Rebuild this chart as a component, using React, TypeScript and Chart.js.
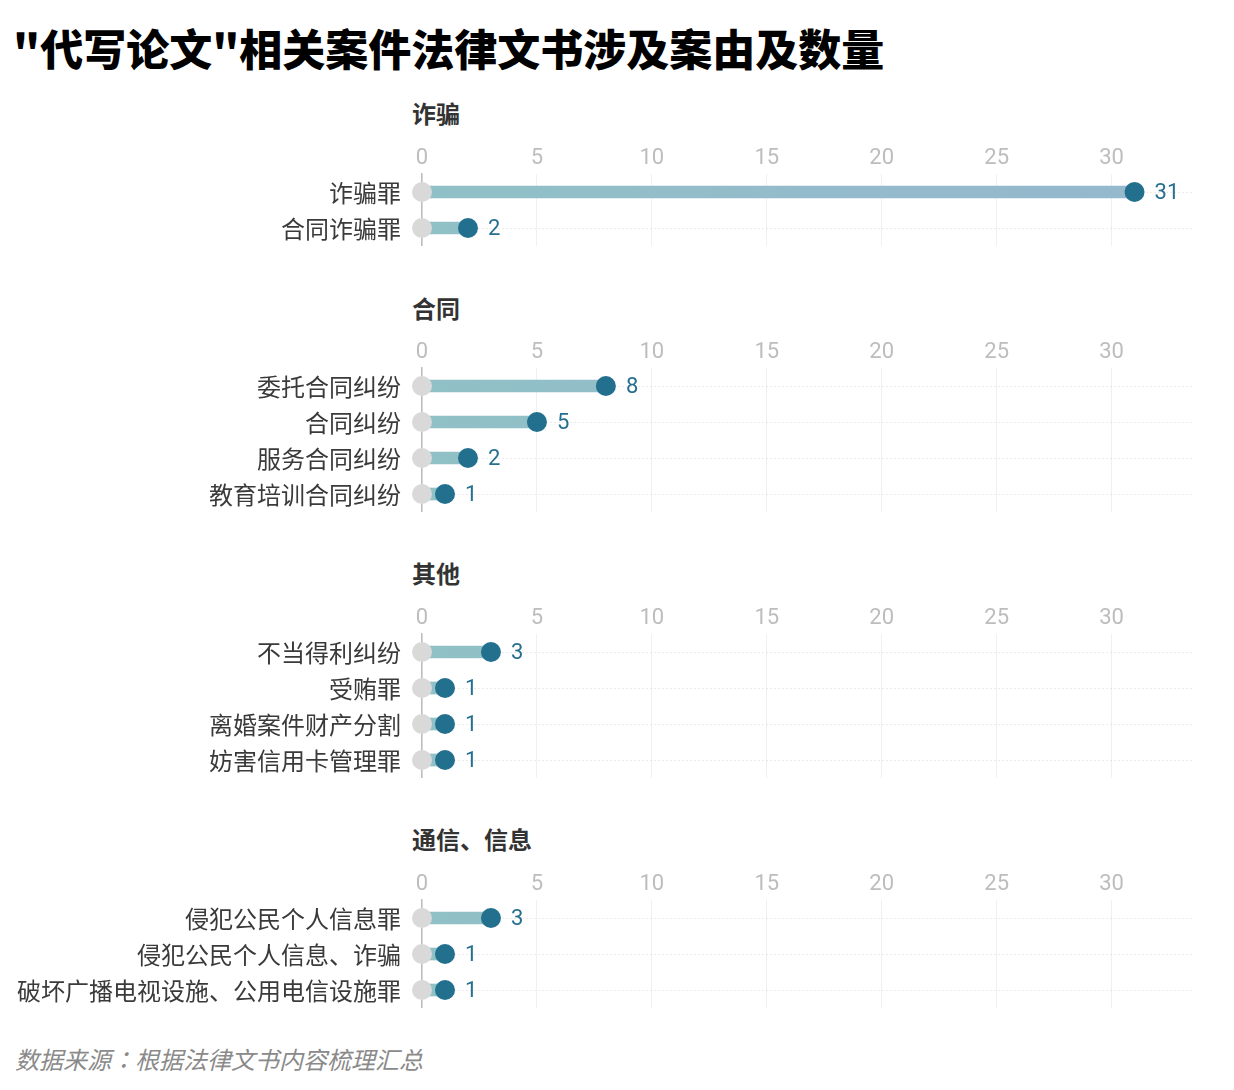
import React, { useEffect, useRef } from "react";
import { Chart, registerables } from "chart.js";

Chart.register(...registerables);

// ---- data ----
const fraudLabels = ["诈骗罪", "合同诈骗罪"];
const fraudValues = [31, 2];

const contractLabels = ["委托合同纠纷", "合同纠纷", "服务合同纠纷", "教育培训合同纠纷"];
const contractValues = [8, 5, 2, 1];

const otherLabels = ["不当得利纠纷", "受贿罪", "离婚案件财产分割", "妨害信用卡管理罪"];
const otherValues = [3, 1, 1, 1];

const infoLabels = ["侵犯公民个人信息罪", "侵犯公民个人信息、诈骗", "破坏广播电视设施、公用电信设施罪"];
const infoValues = [3, 1, 1];

const groupTitles = ["诈骗", "合同", "其他", "通信、信息"];
const xTickStep = 5;
const xMax = 33.5;

const chartTitle = '"代写论文"相关案件法律文书涉及案由及数量';
const sourceNoteA = "数据来源";
const sourceNoteColon = "：";
const sourceNoteB = "根据法律文书内容梳理汇总";

// ---- layout ----
const AXIS_H = 50;
const ROW_H = 36;
const AXIS_LEFT = 422;
const AXIS_RIGHT = 1192;
const W = 1234;

const panels = [
  { title: groupTitles[0], labels: fraudLabels, values: fraudValues, row0: 192, titleY: 113 },
  { title: groupTitles[1], labels: contractLabels, values: contractValues, row0: 386, titleY: 308 },
  { title: groupTitles[2], labels: otherLabels, values: otherValues, row0: 652, titleY: 573 },
  { title: groupTitles[3], labels: infoLabels, values: infoValues, row0: 918, titleY: 839 },
];

const labelPlugin = {
  id: "labels",
  afterDatasetsDraw(chart: any) {
    const ctx = chart.ctx;
    const yScale = chart.scales.y;
    const area = chart.chartArea;
    ctx.save();
    // category labels
    ctx.font = "24px 'Noto Sans CJK SC'";
    ctx.fillStyle = "#3a3a3a";
    ctx.textAlign = "right";
    ctx.textBaseline = "middle";
    (chart.data.labels as string[]).forEach((lab, i) => {
      ctx.fillText(lab, area.left - 21, yScale.getPixelForValue(i) + 1);
    });
    // value labels
    const meta = chart.getDatasetMeta(2);
    const vals = chart.data.datasets[2].data;
    ctx.font = "22px Roboto";
    ctx.fillStyle = "#266f8e";
    ctx.textAlign = "left";
    meta.data.forEach((pt: any, i: number) => {
      ctx.fillText(String(vals[i]), pt.x + 20, pt.y + 1);
    });
    ctx.restore();
  },
};

function Panel({ labels, values, top }: { labels: string[]; values: number[]; top: number }) {
  const ref = useRef<HTMLCanvasElement>(null);
  const height = AXIS_H + labels.length * ROW_H;
  useEffect(() => {
    if (!ref.current) return;
    const barGradient = (c: any) => {
      const chart = c.chart;
      const area = chart.chartArea;
      if (!area) return "#93bccb";
      const g = chart.ctx.createLinearGradient(area.left, 0, area.right, 0);
      g.addColorStop(0, "#90c1c6");
      g.addColorStop(0.5, "#94bbcb");
      g.addColorStop(1, "#95b8cd");
      return g;
    };
    const chart = new Chart(ref.current, {
      type: "bar",
      data: {
        labels,
        datasets: [
          {
            type: "bar",
            data: values.map((v) => [0, v]),
            backgroundColor: barGradient,
            barThickness: 12,
            order: 3,
            indexAxis: "y",
          } as any,
          {
            type: "line",
            data: values.map(() => 0),
            showLine: false,
            pointRadius: 10,
            pointBackgroundColor: "#d9d9d9",
            pointBorderWidth: 0,
            clip: false,
            order: 2,
            indexAxis: "y",
          } as any,
          {
            type: "line",
            data: values,
            showLine: false,
            pointRadius: 10,
            pointBackgroundColor: "#236f8e",
            pointBorderWidth: 0,
            clip: false,
            order: 1,
            indexAxis: "y",
          } as any,
        ],
      },
      options: {
        indexAxis: "y",
        animation: false,
        responsive: false,
        events: [],
        layout: { autoPadding: false, padding: { left: 0, right: W - AXIS_RIGHT, top: 0, bottom: 0 } },
        plugins: { legend: { display: false }, tooltip: { enabled: false }, title: { display: false } },
        scales: {
          x: {
            type: "linear",
            position: "top",
            min: 0,
            max: xMax,
            afterFit: (s: any) => {
              s.height = AXIS_H;
            },
            afterBuildTicks: (s: any) => {
              s.ticks = s.ticks.filter((t: any) => t.value % xTickStep === 0);
            },
            ticks: {
              stepSize: xTickStep,
              color: "#bdbdbd",
              font: { family: "Roboto", size: 22 },
              padding: 2,
              autoSkip: false,
              maxRotation: 0,
            },
            grid: { color: "#f0f0f0", lineWidth: 1, drawTicks: false },
            border: { display: false },
          },
          y: {
            type: "category",
            position: "left",
            offset: true,
            afterFit: (s: any) => {
              s.width = AXIS_LEFT;
            },
            ticks: { display: false },
            grid: { offset: false, color: "#d6d6d6", lineWidth: 1, drawTicks: false },
            border: { display: true, color: "#bdbdbd", width: 1.5, dash: [1, 3] },
          },
        },
      } as any,
      plugins: [labelPlugin],
    });
    return () => chart.destroy();
  }, []);
  return (
    <canvas
      ref={ref}
      width={W}
      height={height}
      style={{ position: "absolute", left: 0, top, width: W, height }}
    />
  );
}

export default function App() {
  return (
    <div
      style={{
        position: "absolute",
        left: 0,
        top: 0,
        width: W,
        height: 1090,
        background: "#fff",
        overflow: "hidden",
        fontFamily: "'Noto Sans CJK SC', sans-serif",
      }}
    >
      <div
        style={{
          position: "absolute",
          left: 13,
          top: 47 - 21,
          fontSize: 43,
          lineHeight: "43px",
          fontWeight: 900,
          color: "#000",
          whiteSpace: "nowrap",
        }}
      >
        {chartTitle}
      </div>
      {panels.map((p, i) => (
        <React.Fragment key={i}>
          <div
            style={{
              position: "absolute",
              left: 412,
              top: p.titleY - 12,
              fontSize: 24,
              lineHeight: "24px",
              fontWeight: 700,
              color: "#333",
              whiteSpace: "nowrap",
            }}
          >
            {p.title}
          </div>
          <Panel labels={p.labels} values={p.values} top={p.row0 - ROW_H / 2 - AXIS_H} />
        </React.Fragment>
      ))}
      <div
        style={{
          position: "absolute",
          left: 15,
          top: 1059 - 12,
          fontSize: 24,
          lineHeight: "24px",
          fontStyle: "italic",
          color: "#8a8a8a",
          whiteSpace: "nowrap",
        }}
      >
        {sourceNoteA}
        <span style={{ fontFamily: "'Noto Sans CJK JP'" }}>{sourceNoteColon}</span>
        {sourceNoteB}
      </div>
    </div>
  );
}
